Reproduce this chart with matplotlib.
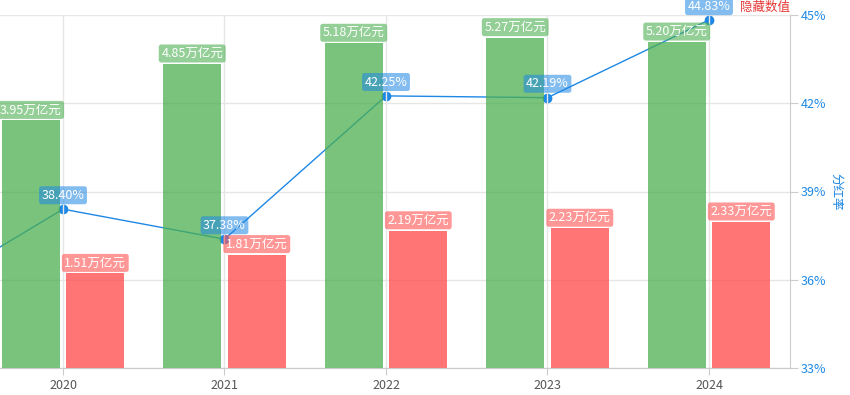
"""Net profit vs dividends with payout ratio line."""

import matplotlib

matplotlib.use("Agg")
import matplotlib.pyplot as plt
import numpy as np

plt.rcParams["font.family"] = ["Noto Sans CJK SC", "DejaVu Sans"]

# ------------------------------------------------------------
# data (2019 sits off the left edge of the crop)
# ------------------------------------------------------------
years = ["2019", "2020", "2021", "2022", "2023", "2024"]
profit = [3.80, 3.95, 4.85, 5.18, 5.27, 5.20]      # 万亿元
dividend = [1.33, 1.51, 1.81, 2.19, 2.23, 2.33]    # 万亿元
payout = [35.10, 38.40, 37.38, 42.25, 42.19, 44.83]  # %

GREEN = "#4CAF50"
RED = "#FF5252"
BLUE = "#1E88E5"
GRID = "#E6E6E6"
AXIS = "#CCCCCC"

W, H, DPI = 850, 395, 100
fig = plt.figure(figsize=(W / DPI, H / DPI), dpi=DPI)

# axes extends past the left edge, like the cropped screenshot
left_px, right_px = -179.25, 789.75
top_px, bottom_px = 15, 368
ax = fig.add_axes([
    left_px / W,
    (H - bottom_px) / H,
    (right_px - left_px) / W,
    (bottom_px - top_px) / H,
])
ax2 = ax.twinx()
# bars above the line axes
ax.set_zorder(ax2.get_zorder() + 1)
ax.patch.set_visible(False)

x = np.arange(len(years))
bw = 0.36
off = 0.2

ax.bar(x - off, profit, bw, color=GREEN, alpha=0.75, zorder=2)
ax.bar(x + off, dividend, bw, color=RED, alpha=0.8, zorder=2)
ax.set_xlim(-0.5, len(years) - 0.5)
ax.set_ylim(0, 5.63)
ax.set_yticks([])

ax2.plot(x, payout, color=BLUE, lw=1, marker="o", ms=6, zorder=3)
ax2.set_ylim(33, 45)
ax2.set_yticks([33, 36, 39, 42, 45])
ax2.set_yticklabels([f"{v}%" for v in [33, 36, 39, 42, 45]])
ax2.grid(axis="y", color=GRID, lw=1)
ax2.tick_params(axis="y", colors=AXIS, labelcolor=BLUE, labelsize=9,
                length=6, pad=2)
ax2.set_ylabel("分红率", color=BLUE, fontsize=9, rotation=-90, labelpad=12)

# labels only for the visible years (2019 is cropped away)
shown = list(range(1, len(years)))

ax.set_xticks(x[shown])
ax.set_xticklabels([years[i] for i in shown])
ax.tick_params(axis="x", colors=AXIS, labelcolor="#555555", labelsize=9,
               length=5, pad=3)
ax.grid(axis="x", color=GRID, lw=1)
ax.set_axisbelow(True)

for a in (ax, ax2):
    a.spines["top"].set_visible(False)
    a.spines["left"].set_visible(False)
    a.spines["right"].set_visible(False)
    a.spines["bottom"].set_color(AXIS)
ax2.spines["right"].set_visible(True)
ax2.spines["right"].set_color(AXIS)

for i in shown:
    ax.annotate(f"{profit[i]:.2f}万亿元", (x[i] - off, profit[i]),
                xytext=(0, 7.5), textcoords="offset points",
                ha="center", va="center", fontsize=9, color="white",
                zorder=5, annotation_clip=False,
                bbox={"boxstyle": "round,pad=0.2", "fc": GREEN,
                      "ec": "none", "alpha": 0.6})
    ax.annotate(f"{dividend[i]:.2f}万亿元", (x[i] + off, dividend[i]),
                xytext=(0, 7.5), textcoords="offset points",
                ha="center", va="center", fontsize=9, color="white",
                zorder=6, annotation_clip=False,
                bbox={"boxstyle": "round,pad=0.2", "fc": RED,
                      "ec": "none", "alpha": 0.6})

# line labels (on top of the bars)
for i in shown:
    ax.annotate(f"{payout[i]:.2f}%", (x[i], payout[i]),
                xycoords=ax2.transData, xytext=(0, 10),
                textcoords="offset points", ha="center", va="center",
                fontsize=9, color="white", zorder=5, annotation_clip=False,
                bbox={"boxstyle": "round,pad=0.2", "fc": BLUE,
                      "ec": "none", "alpha": 0.55})

fig.text(765 / W, 1 - 7 / H, "隐藏数值", color="#E53935", fontsize=9,
         ha="center", va="center")

fig.savefig("out.png", dpi=DPI, facecolor="white")
